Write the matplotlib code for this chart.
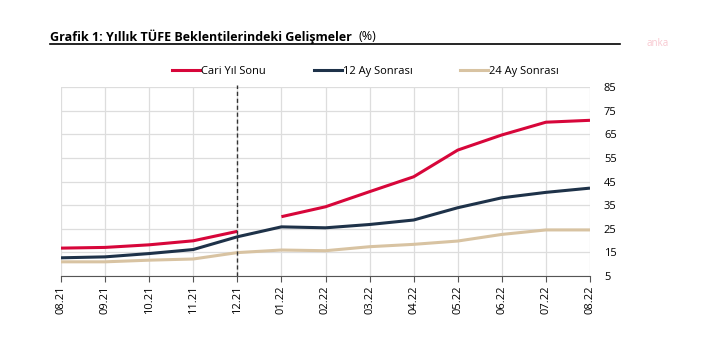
import numpy as np
import matplotlib.pyplot as plt
from matplotlib.lines import Line2D

plt.rcParams['font.family'] = ['Open Sans', 'DejaVu Sans']

# veriler
aylar = ['08.21', '09.21', '10.21', '11.21', '12.21', '01.22', '02.22',
         '03.22', '04.22', '05.22', '06.22', '07.22', '08.22']
cari_yil = [16.8, 17.1, 18.2, 19.9, 23.9, 30.1, 34.3, 40.7, 47.0, 58.3, 64.7, 70.1, 70.9]
ay12 = [12.7, 13.1, 14.5, 16.2, 21.6, 25.8, 25.4, 26.8, 28.7, 33.9, 38.1, 40.4, 42.2]
ay24 = [11.0, 11.0, 11.7, 12.2, 14.9, 16.0, 15.7, 17.4, 18.4, 19.8, 22.6, 24.5, 24.5]

kirmizi = '#D7063A'
lacivert = '#1E3249'
bej = '#D8C3A2'
lw = 2.2

fig = plt.figure(figsize=(7.13, 3.62), dpi=100)
ax = fig.add_axes([61 / 713, 1 - 276 / 362, 529 / 713, 189 / 362])

x = np.arange(len(aylar))
# cari yil sonu: 12.21 ile 01.22 arasinda kopuk
ax.plot(x[:5], cari_yil[:5], color=kirmizi, lw=lw, solid_capstyle='butt')
ax.plot(x[5:], cari_yil[5:], color=kirmizi, lw=lw, solid_capstyle='butt')
ax.plot(x, ay12, color=lacivert, lw=lw, solid_capstyle='butt')
ax.plot(x, ay24, color=bej, lw=lw, solid_capstyle='butt')

ax.axvline(4, ymin=0, ymax=1.01, color='#333333', lw=1, ls=(0, (3, 2)), clip_on=False)

ax.set_xlim(0, 12)
ax.set_ylim(5, 85)
ax.set_yticks(range(5, 86, 10))
ax.set_xticks(x)
ax.set_xticklabels(aylar, rotation=90, fontsize=8)
ax.yaxis.tick_right()
ax.tick_params(axis='y', length=0, labelsize=8, pad=10)
ax.tick_params(axis='x', length=4, color='#555555', direction='out', pad=3)
ax.grid(True, color='#DDDDDD', lw=0.9)
ax.set_axisbelow(True)
for s in ['left', 'right', 'top']:
    ax.spines[s].set_visible(False)
ax.spines['bottom'].set_color('#555555')

# lejant
handles = [Line2D([], [], color=c, lw=lw) for c in [kirmizi, lacivert, bej]]
ax.legend(handles, ['Cari Yıl Sonu', '12 Ay Sonrası', '24 Ay Sonrası'],
          ncol=3, loc='center', bbox_to_anchor=(0.576, 1.08), frameon=False,
          fontsize=8, handlelength=2.5, handletextpad=0.1, columnspacing=4.3)

# baslik
fig.text(50 / 713, 1 - 37 / 362, 'Grafik 1: Yıllık TÜFE Beklentilerindeki Gelişmeler',
         fontsize=9, fontweight='bold', va='center', ha='left')
fig.text(358 / 713, 1 - 37 / 362, '(%)', fontsize=9, va='center', ha='left')
fig.add_artist(Line2D([50 / 713, 620 / 713], [1 - 44 / 362, 1 - 44 / 362],
                      color='black', lw=1.2))
fig.text(658 / 713, 1 - 43 / 362, 'anka', fontsize=7, color='#F8C8D0',
         ha='center', va='center')

fig.savefig('out.png', dpi=100)
